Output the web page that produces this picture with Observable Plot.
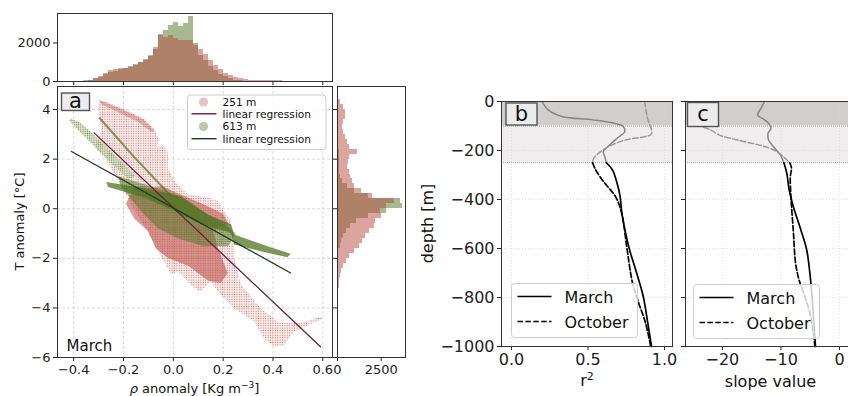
<!DOCTYPE html>
<html><head><meta charset="utf-8">
<script src="https://cdn.jsdelivr.net/npm/d3@7"></script>
<script src="https://cdn.jsdelivr.net/npm/@observablehq/plot@0.6"></script>
<style>
html,body{margin:0;padding:0;background:#fff;overflow:hidden;}
#fig{position:relative;width:848px;height:396px;overflow:hidden;font-family:"DejaVu Sans",sans-serif;}
#fig svg{position:absolute;}
</style></head><body><div id="fig"></div>
<script>
// ---------------- data ----------------
const rhoTicks = [-0.4, -0.2, 0, 0.2, 0.4, 0.6];
const tTicks = [-6, -4, -2, 0, 2, 4];
const rhoCountTicks = [0, 2000];
const tCountTicks = [0, 2500];
const depthTicks = [0, -200, -400, -600, -800, -1000];
const r2Ticks = [0, 0.5, 1];
const slopeTicks = [-20, -10, 0];

// top histogram (rho anomaly), bin centres and counts
const rhoBinWidth = 0.02;
const rhoBinCenters = [-0.41,-0.39,-0.37,-0.35,-0.33,-0.31,-0.29,-0.27,-0.25,-0.23,-0.21,-0.19,-0.17,-0.15,-0.13,-0.11,-0.09,-0.07,-0.05,-0.03,-0.01,0.01,0.03,0.05,0.07,0.09,0.11,0.13,0.15,0.17,0.19,0.21,0.23,0.25,0.27,0.29,0.31,0.33,0.35,0.37,0.39,0.41,0.43,0.45,0.47,0.49,0.51,0.53,0.55,0.57,0.59];
const rhoCount251 = [0,0,0,0,40,160,280,430,580,640,665,700,750,820,980,1100,1350,1750,2380,2300,2390,2210,2130,2125,2125,1870,1650,1420,1100,820,600,430,290,200,140,95,70,60,50,45,40,35,30,25,20,15,15,10,10,8,5];
const rhoCount613 = [15,20,25,30,50,130,220,340,450,540,610,670,760,860,990,1130,1300,1650,2450,2650,2900,3050,2850,3000,3380,1950,1350,1080,760,560,380,240,130,70,40,25,15,10,8,5,5,0,0,0,0,0,0,0,0,0,0];

// right histogram (T anomaly), bin centres and counts
const tBinWidth = 0.2;
const tBinCenters = [4.5,4.3,4.1,3.9,3.7,3.5,3.3,3.1,2.9,2.7,2.5,2.3,2.1,1.9,1.7,1.5,1.3,1.1,0.9,0.7,0.5,0.3,0.1,-0.1,-0.3,-0.5,-0.7,-0.9,-1.1,-1.3,-1.5,-1.7,-1.9,-2.1,-2.3,-2.5,-2.7,-2.9,-3.1,-3.3,-3.5,-3.7,-3.9,-4.1,-4.3,-4.5,-4.7,-4.9,-5.1,-5.3,-5.5];
const tCount251 = [40,200,350,450,450,360,310,360,460,560,680,1140,680,620,600,660,750,870,1000,1350,2000,3250,2800,2440,2500,2200,2100,1850,1600,1450,1250,1000,700,520,320,220,160,120,90,70,55,45,40,35,40,45,40,30,25,15,5];
const tCount613 = [0,0,0,0,15,30,40,50,60,70,80,90,100,100,110,130,180,290,560,1000,1800,3580,3700,2800,1800,1100,750,500,350,250,150,80,40,10,0,0,0,0,0,0,0,0,0,0,0,0,0,0,0,0,0];

// scatter clouds read as outlines [rho, T]
const cloud251Envelope = [[-0.296,4.39],[-0.249,4.23],[-0.182,3.96],[-0.116,3.62],[-0.076,3.22],[-0.056,2.74],[-0.069,2.54],[-0.036,2.54],[-0.022,2.27],[-0.022,1.66],[0.004,1.12],[0.058,0.58],[0.138,0.45],[0.178,0.31],[0.231,-0.5],[0.244,-1.2],[0.244,-1.99],[0.271,-3.06],[0.351,-4.01],[0.418,-4.55],[0.511,-4.62],[0.591,-4.35],[0.598,-4.44],[0.484,-4.96],[0.444,-5.5],[0.404,-5.57],[0.364,-5.23],[0.324,-4.55],[0.244,-4.01],[0.178,-3.34],[0.151,-2.93],[0.111,-3.34],[0.084,-3.2],[0.018,-2.53],[-0.009,-2.66],[-0.022,-2.39],[-0.062,-1.71],[-0.102,-0.9],[-0.129,-0.5],[-0.169,0.18],[-0.222,1.12],[-0.276,2.07],[-0.316,2.47],[-0.289,3.15],[-0.302,4.09]];
const cloud251Plume = [[-0.296,4.39],[-0.2,3.98],[-0.12,3.6],[-0.075,3.15],[-0.09,3.1],[-0.14,3.5],[-0.22,3.88],[-0.29,4.22]];
const cloud251Core = [[-0.156,0.9],[-0.1,0.85],[-0.04,0.9],[0.0,0.7],[0.058,0.45],[0.138,0.1],[0.2,-0.2],[0.22,-0.6],[0.16,-0.9],[0.18,-1.6],[0.218,-2.6],[0.19,-3.0],[0.14,-2.9],[0.06,-2.3],[-0.02,-2.0],[-0.07,-1.6],[-0.102,-0.9],[-0.156,-0.4],[-0.19,0.2]];
const cloud613Upper = [[-0.412,3.65],[-0.37,3.45],[-0.31,2.9],[-0.25,2.3],[-0.19,1.7],[-0.15,1.3],[-0.18,1.2],[-0.24,1.75],[-0.3,2.35],[-0.36,2.95],[-0.405,3.4],[-0.418,3.58]];
const cloud613Band = [[-0.269,1.08],[-0.129,0.85],[0.031,0.51],[0.138,-0.23],[0.231,-0.63],[0.244,-1.04],[0.378,-1.51],[0.471,-1.82],[0.458,-1.96],[0.351,-1.71],[0.244,-1.44],[0.231,-0.97],[0.111,-0.63],[0.004,-0.09],[-0.116,0.45],[-0.262,0.88]];
const cloud613Core = [[-0.22,1.3],[-0.12,1.0],[0.0,0.6],[0.1,0.0],[0.2,-0.6],[0.25,-1.0],[0.22,-1.5],[0.12,-1.5],[0.02,-1.2],[-0.06,-0.8],[-0.12,-0.2],[-0.17,0.4],[-0.21,0.9]];
const streak613 = [[-0.296,3.66],[-0.156,2.07],[-0.009,0.51]];

// regression lines (end points)
const reg251Rho = [-0.318, 0.591], reg251T = [3.06, -5.57];
const reg613Rho = [-0.409, 0.471], reg613T = [2.31, -2.59];

// panel b: r^2 profiles
const marchDepthB = [0,-34,-61,-75,-89,-102,-123,-150,-184,-204,-225,-250,-279,-334,-388,-450,-520,-602,-684,-793,-902,-1000];
const marchR2 = [0.20,0.24,0.33,0.53,0.67,0.73,0.74,0.69,0.63,0.60,0.61,0.62,0.66,0.69,0.71,0.72,0.74,0.77,0.81,0.86,0.89,0.915];
const octDepthB = [0,-61,-132,-143,-157,-184,-211,-232,-250,-279,-334,-388,-456,-602,-738,-820,-902,-1000];
const octR2 = [0.87,0.886,0.915,0.875,0.745,0.635,0.57,0.537,0.53,0.55,0.61,0.68,0.72,0.755,0.79,0.83,0.875,0.91];
// panel c: slope profiles
const marchDepthC = [0,-27,-54,-60,-82,-109,-129,-157,-184,-218,-250,-293,-361,-429,-524,-606,-715,-824,-933,-1000];
const marchSlope = [-12.8,-13.4,-14.0,-13.8,-12.4,-11.7,-12.2,-12.1,-11.3,-10.1,-9.5,-9.0,-8.6,-7.9,-6.6,-5.6,-5.0,-4.6,-4.3,-4.1];
const octDepthC = [-95,-116,-136,-157,-177,-197,-225,-250,-272,-307,-388,-524,-660,-729,-797,-879,-1000];
const octSlope = [-24.5,-22.0,-20.6,-17.5,-13.8,-11.3,-9.6,-8.5,-8.2,-8.4,-8.3,-7.9,-7.5,-6.9,-5.9,-4.9,-4.2];

// shaded layers
const layerTop = [0, -100];
const layerBottom = [-100, -250];
const layerFill = ["#d3cece", "#efeded"];
const layerLines = [-100, -250];

// ---------------- styling ----------------
const pink = "#b8493f", green = "#4f7421";
const dotPink = "#c0564c", dotGreen = "#5f8535";
const purple = "#6a1f3c", dkgreen = "#1d3b22";
const frameCol = "#333";
const FONT = '"DejaVu Sans", sans-serif';
const st = fs => ({fontFamily: FONT, fontSize: fs + "px", color: "#222", background: "transparent", overflow: "visible"});
const xDomA = [-0.465, 0.639], yDomA = [-6, 4.93];
const intFmt = d3.format("d");

const fig = document.getElementById("fig");
function place(svg, left, top) { svg.style.position = "absolute"; svg.style.left = left + "px"; svg.style.top = top + "px"; fig.appendChild(svg); return svg; }
const poly = (pts, id) => pts.map(([x, y]) => ({x, y, id}));

// ---------------- top histogram ----------------
const rhoHist = rhoBinCenters.map((c, i) => ({x1: c - rhoBinWidth / 2, x2: c + rhoBinWidth / 2, a: rhoCount251[i], b: rhoCount613[i]}));
place(Plot.plot({
  width: 340, height: 90, marginLeft: 57, marginRight: 8, marginTop: 13, marginBottom: 9,
  style: st(13),
  x: {domain: xDomA, ticks: rhoTicks, tickFormat: () => "", tickSize: 4, label: null},
  y: {domain: [0, 3530], ticks: rhoCountTicks, tickFormat: intFmt, tickSize: 4, tickPadding: 3, label: null},
  marks: [
    Plot.rectY(rhoHist, {x1: "x1", x2: "x2", y: "b", fill: green, fillOpacity: 0.5, shapeRendering: "crispEdges"}),
    Plot.rectY(rhoHist, {x1: "x1", x2: "x2", y: "a", fill: pink, fillOpacity: 0.5, shapeRendering: "crispEdges"}),
    Plot.frame({stroke: frameCol})
  ]
}), 0, 0);

// ---------------- main scatter ----------------
const mainSvg = Plot.plot({
  width: 340, height: 396, marginLeft: 57, marginRight: 8, marginTop: 86, marginBottom: 39,
  style: st(13),
  x: {domain: xDomA, ticks: rhoTicks, tickFormat: d3.format(".1f"), tickSize: 4, tickPadding: 3, label: null},
  y: {domain: yDomA, ticks: tTicks, tickFormat: intFmt, tickSize: 4, tickPadding: 3, label: null},
  marks: [
    Plot.ruleX(rhoTicks, {stroke: "#c8c8c8", strokeDasharray: "3,2", strokeWidth: 0.7}),
    Plot.ruleY(tTicks, {stroke: "#c8c8c8", strokeDasharray: "3,2", strokeWidth: 0.7}),
    Plot.line(poly(cloud251Envelope, "e"), {x: "x", y: "y", z: "id", curve: "linear-closed", fill: "#ecd0cc", fillOpacity: 0.4, stroke: "none"}),
    Plot.line(poly(cloud251Envelope, "e"), {x: "x", y: "y", z: "id", curve: "linear-closed", fill: "url(#pinkDots)", stroke: "none"}),
    Plot.line(poly(cloud251Plume, "p"), {x: "x", y: "y", z: "id", curve: "linear-closed", fill: "url(#pinkDense)", stroke: "none"}),
    Plot.line(poly(cloud251Core, "c"), {x: "x", y: "y", z: "id", curve: "linear-closed", fill: pink, fillOpacity: 0.3, stroke: "none"}),
    Plot.line(poly(cloud251Core, "c"), {x: "x", y: "y", z: "id", curve: "linear-closed", fill: "url(#pinkDense)", stroke: "none"}),
    Plot.line(poly(cloud613Upper, "u"), {x: "x", y: "y", z: "id", curve: "linear-closed", fill: "#dfe6d3", fillOpacity: 0.8, stroke: "none"}),
    Plot.line(poly(cloud613Upper, "u"), {x: "x", y: "y", z: "id", curve: "linear-closed", fill: "url(#greenDots)", stroke: "none"}),
    Plot.line(poly(cloud613Core, "c"), {x: "x", y: "y", z: "id", curve: "linear-closed", fill: green, fillOpacity: 0.4, stroke: "none"}),
    Plot.line(poly(cloud613Core, "c"), {x: "x", y: "y", z: "id", curve: "linear-closed", fill: "url(#greenDots)", stroke: "none"}),
    Plot.line(poly(cloud613Band, "b"), {x: "x", y: "y", z: "id", curve: "linear-closed", fill: green, fillOpacity: 0.75, stroke: "none"}),
    Plot.line(poly(streak613, "s"), {x: "x", y: "y", stroke: green, strokeOpacity: 0.7, strokeWidth: 2}),
    Plot.line(reg251Rho.map((x, i) => ({x, y: reg251T[i]})), {x: "x", y: "y", stroke: purple, strokeWidth: 1.3}),
    Plot.line(reg613Rho.map((x, i) => ({x, y: reg613T[i]})), {x: "x", y: "y", stroke: dkgreen, strokeWidth: 1.3}),
    Plot.frame({stroke: frameCol})
  ]
});
const NS = "http://www.w3.org/2000/svg";
const defs = document.createElementNS(NS, "defs");
defs.innerHTML = `<pattern id="pinkDots" width="2.4" height="2.4" patternUnits="userSpaceOnUse"><circle cx="1.2" cy="1.2" r="0.6" fill="${dotPink}" fill-opacity="0.8"/></pattern>
<pattern id="pinkDense" width="2" height="2" patternUnits="userSpaceOnUse"><circle cx="1" cy="1" r="0.75" fill="${pink}" fill-opacity="0.9"/></pattern>
<pattern id="greenDots" width="2.2" height="2.2" patternUnits="userSpaceOnUse"><circle cx="1.1" cy="1.1" r="0.65" fill="${dotGreen}" fill-opacity="0.9"/></pattern>`;
mainSvg.insertBefore(defs, mainSvg.firstChild);
place(mainSvg, 0, 0);

// ---------------- right histogram ----------------
const tHist = tBinCenters.map((c, i) => ({y1: c - tBinWidth / 2, y2: c + tBinWidth / 2, a: tCount251[i], b: tCount613[i]}));
place(Plot.plot({
  width: 80, height: 396, marginLeft: 7, marginRight: 5, marginTop: 86, marginBottom: 39,
  style: st(13),
  x: {domain: [0, 3890], ticks: tCountTicks, tickFormat: intFmt, tickSize: 4, tickPadding: 3, label: null},
  y: {domain: yDomA, ticks: tTicks, tickFormat: () => "", tickSize: 4, label: null},
  marks: [
    Plot.rectX(tHist, {y1: "y1", y2: "y2", x: "b", fill: green, fillOpacity: 0.5, shapeRendering: "crispEdges"}),
    Plot.rectX(tHist, {y1: "y1", y2: "y2", x: "a", fill: pink, fillOpacity: 0.5, shapeRendering: "crispEdges"}),
    Plot.frame({stroke: frameCol})
  ]
}), 330, 0);

// ---------------- profile panels ----------------
const layers = layerTop.map((t, i) => ({y1: t, y2: layerBottom[i], fill: layerFill[i]}));
function profile(vals, depth, cut) {
  const all = vals.map((v, i) => ({v, d: depth[i]}));
  return {upper: all.filter(p => p.d >= cut), lower: all.filter(p => p.d <= cut)};
}
const CUT = layerBottom[1];
function profilePlot(opts) {
  const {left, width, mL, mR, domain, ticks, tickFormat, yLabels, march, oct} = opts;
  const m = profile(march[0], march[1], CUT), o = profile(oct[0], oct[1], CUT);
  return place(Plot.plot({
    width, height: 396, marginLeft: mL, marginRight: mR, marginTop: 101, marginBottom: 50,
    style: st(16),
    x: {domain, ticks, tickFormat, tickSize: 4, tickPadding: 3, label: null},
    y: {domain: [-1000, 0], ticks: depthTicks, tickFormat: yLabels ? intFmt : () => "", tickSize: 4, tickPadding: 3, label: null},
    marks: [
      Plot.rect(layers, {x1: () => domain[0], x2: () => domain[1], y1: "y1", y2: "y2", fill: "fill"}),
      Plot.ruleX(ticks, {stroke: "#d8d8d8", strokeDasharray: "1,2", strokeWidth: 0.8}),
      Plot.ruleY(depthTicks, {stroke: "#d8d8d8", strokeDasharray: "1,2", strokeWidth: 0.8}),
      Plot.ruleY(layerLines, {stroke: "#9a9a9a", strokeDasharray: "1,1", strokeWidth: 1}),
      Plot.line(m.upper, {x: "v", y: "d", stroke: "#868686", strokeWidth: 1.5, curve: "catmull-rom"}),
      Plot.line(o.upper, {x: "v", y: "d", stroke: "#9a9a9a", strokeWidth: 1.5, strokeDasharray: "5.5,2.4", curve: "catmull-rom"}),
      Plot.line(m.lower, {x: "v", y: "d", stroke: "#000", strokeWidth: 1.7, curve: "catmull-rom"}),
      Plot.line(o.lower, {x: "v", y: "d", stroke: "#000", strokeWidth: 1.7, strokeDasharray: "5.5,2.4", curve: "catmull-rom"}),
      Plot.frame({stroke: frameCol})
    ]
  }), left, 0);
}
profilePlot({left: 420, width: 260, mL: 81, mR: 8, domain: [-0.065, 1.052], ticks: r2Ticks, tickFormat: d3.format(".1f"), yLabels: true, march: [marchR2, marchDepthB], oct: [octR2, octDepthB]});
profilePlot({left: 680, width: 180, mL: 5, mR: 4, domain: [-26.3, 2.9], ticks: slopeTicks, tickFormat: intFmt, yLabels: false, march: [marchSlope, marchDepthC], oct: [octSlope, octDepthC]});

// ---------------- overlay: labels, legends, panel letters ----------------
const ov = document.createElementNS(NS, "svg");
ov.setAttribute("width", 848); ov.setAttribute("height", 396);
ov.style.left = "0px"; ov.style.top = "0px"; ov.style.fontFamily = FONT;
function legendBox(x, y) {
  return `<rect x="${x}" y="${y}" width="126" height="54" rx="3" fill="#fff" fill-opacity="0.8" stroke="#cccccc"/>
  <line x1="${x + 6}" x2="${x + 40}" y1="${y + 13}" y2="${y + 13}" stroke="#000" stroke-width="1.7"/>
  <text x="${x + 53}" y="${y + 19}" font-size="16" fill="#111">March</text>
  <line x1="${x + 6}" x2="${x + 40}" y1="${y + 38}" y2="${y + 38}" stroke="#000" stroke-width="1.7" stroke-dasharray="5.5,2.4"/>
  <text x="${x + 53}" y="${y + 44}" font-size="16" fill="#111">October</text>`;
}
function letter(x, y, w, h, t, fs, base) {
  return `<rect x="${x}" y="${y}" width="${w}" height="${h}" fill="#ececec" stroke="#555" stroke-width="1.4"/>
  <text x="${x + w / 2}" y="${y + base}" font-size="${fs}" text-anchor="middle" fill="#111">${t}</text>`;
}
ov.innerHTML = `
  <text transform="translate(24,221.5) rotate(-90)" font-size="13" text-anchor="middle" fill="#111">T anomaly [°C]</text>
  <text x="194.5" y="393" font-size="13" text-anchor="middle" fill="#111"><tspan font-style="italic">ρ</tspan> anomaly [Kg m<tspan font-size="9" dy="-5">−3</tspan><tspan dy="5">]</tspan></text>
  <text x="66.5" y="351" font-size="15" fill="#111">March</text>
  ${letter(61.5, 93, 28, 17.5, "a", 21, 14.5)}
  <rect x="187.5" y="95" width="138.5" height="54.5" rx="3" fill="#fff" fill-opacity="0.8" stroke="#cccccc"/>
  <circle cx="203.5" cy="102" r="4.6" fill="#e8c3bf"/>
  <line x1="191.5" x2="216.5" y1="113.8" y2="113.8" stroke="${purple}" stroke-width="1.4"/>
  <circle cx="203.5" cy="126.6" r="4.6" fill="#bccaa9"/>
  <line x1="191.5" x2="216.5" y1="138.7" y2="138.7" stroke="${dkgreen}" stroke-width="1.4"/>
  <text x="222.5" y="105.5" font-size="10.6" fill="#111">251 m</text>
  <text x="222.5" y="117.7" font-size="10.6" fill="#111">linear regression</text>
  <text x="222.5" y="130.4" font-size="10.6" fill="#111">613 m</text>
  <text x="222.5" y="142.6" font-size="10.6" fill="#111">linear regression</text>
  <text transform="translate(433,223.5) rotate(-90)" font-size="16" text-anchor="middle" fill="#111">depth [m]</text>
  <text x="587" y="386" font-size="16" text-anchor="middle" fill="#111">r<tspan font-size="11" dy="-6">2</tspan></text>
  <text x="770.5" y="387" font-size="16" text-anchor="middle" fill="#111">slope value</text>
  ${letter(506, 103, 31, 22, "b", 21, 17.5)}
  ${letter(687.5, 102.5, 31, 24, "c", 21, 18)}
  ${legendBox(511.5, 283.5)}
  ${legendBox(693.5, 284.5)}
`;
fig.appendChild(ov);
</script></body></html>
